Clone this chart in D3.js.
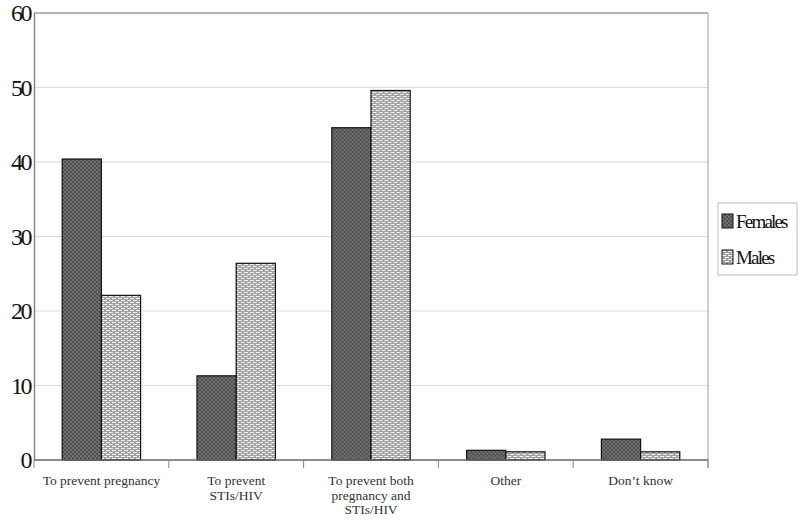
<!DOCTYPE html>
<html>
<head>
<meta charset="utf-8">
<script src="https://cdn.jsdelivr.net/npm/d3@7"></script>
<style>
  body { margin: 0; background: #fff; }
  svg { display: block; }
</style>
</head>
<body>
<div id="chart"></div>
<script>
// data
var categories = [
  ["To prevent pregnancy"],
  ["To prevent", "STIs/HIV"],
  ["To prevent both", "pregnancy and", "STIs/HIV"],
  ["Other"],
  ["Don\u2019t know"]
];
var seriesNames = ["Females", "Males"];
var females = [40.4, 11.3, 44.6, 1.3, 2.8];
var males = [22.1, 26.4, 49.6, 1.1, 1.1];
var yTicks = [0, 10, 20, 30, 40, 50, 60];

var serif = "'Liberation Serif', 'Times New Roman', serif";

var svgWidth = 800;
var svgHeight = 523;
var margin = { top: 13, right: 92, bottom: 63, left: 34 };
var width = svgWidth - margin.left - margin.right;
var height = svgHeight - margin.top - margin.bottom;

var svg = d3.select("#chart")
  .append("svg")
    .attr("width", svgWidth)
    .attr("height", svgHeight);

// fill patterns
var defs = svg.append("defs");
var pf = defs.append("pattern")
  .attr("id", "patF")
  .attr("patternUnits", "userSpaceOnUse")
  .attr("width", 4).attr("height", 4);
pf.append("rect").attr("width", 4).attr("height", 4).attr("fill", "#505050");
pf.append("rect").attr("width", 2).attr("height", 2).attr("fill", "#707070");
pf.append("rect").attr("x", 2).attr("y", 2).attr("width", 2).attr("height", 2).attr("fill", "#707070");

var pm = defs.append("pattern")
  .attr("id", "patM")
  .attr("patternUnits", "userSpaceOnUse")
  .attr("width", 6).attr("height", 4);
pm.append("rect").attr("width", 6).attr("height", 4).attr("fill", "#a0a0a0");
pm.append("rect").attr("x", 0).attr("y", 1).attr("width", 4).attr("height", 1).attr("fill", "#f4f4f4");
pm.append("rect").attr("x", 3).attr("y", 3).attr("width", 4).attr("height", 1).attr("fill", "#f4f4f4");
pm.append("rect").attr("x", -3).attr("y", 3).attr("width", 4).attr("height", 1).attr("fill", "#f4f4f4");

var patterns = ["url(#patF)", "url(#patM)"];

var chartGroup = svg.append("g")
  .attr("transform", `translate(${margin.left}, ${margin.top})`);

var xScale = d3.scaleBand()
  .domain(d3.range(categories.length))
  .range([0, width]);

var xInner = d3.scaleBand()
  .domain(seriesNames)
  .range([0, xScale.bandwidth()])
  .paddingOuter(0.72)
  .paddingInner(0);

var yScale = d3.scaleLinear()
  .domain([0, 60])
  .range([height, 0]);

// gridlines
chartGroup.append("g")
  .selectAll("line")
  .data(yTicks.filter(d => d > 0 && d < 60))
  .enter()
  .append("line")
    .attr("x1", 0)
    .attr("x2", width)
    .attr("y1", d => yScale(d))
    .attr("y2", d => yScale(d))
    .attr("stroke", "#d9d9d9")
    .attr("stroke-width", 1);

// frame top and right
chartGroup.append("line")
  .attr("x1", 0).attr("x2", width)
  .attr("y1", 0).attr("y2", 0)
  .attr("stroke", "#999").attr("stroke-width", 1.5);
chartGroup.append("line")
  .attr("x1", width).attr("x2", width)
  .attr("y1", 0).attr("y2", height + 8)
  .attr("stroke", "#bbb").attr("stroke-width", 1.5);

// bars
var rows = categories.map(function(c, i) {
  return [
    { s: "Females", v: females[i], f: patterns[0] },
    { s: "Males", v: males[i], f: patterns[1] }
  ];
});

chartGroup.selectAll(".grp")
  .data(rows)
  .enter()
  .append("g")
    .attr("class", "grp")
    .attr("transform", (d, i) => `translate(${xScale(i)},0)`)
  .selectAll("rect")
  .data(d => d)
  .enter()
  .append("rect")
    .attr("x", d => xInner(d.s))
    .attr("width", xInner.bandwidth())
    .attr("y", d => yScale(d.v))
    .attr("height", d => height - yScale(d.v))
    .attr("fill", d => d.f)
    .attr("stroke", "#111")
    .attr("stroke-width", 1.2);

// y axis
var yAxis = chartGroup.append("g")
  .call(d3.axisLeft(yScale).tickValues(yTicks).tickSize(0).tickPadding(4));
yAxis.select(".domain").attr("stroke", "#888").attr("stroke-width", 1.5);
yAxis.selectAll("text")
  .style("font-family", serif)
  .style("font-size", "24px")
  .style("letter-spacing", "-2.5px")
  .attr("fill", "#111");

// x axis line and ticks
chartGroup.append("line")
  .attr("x1", 0).attr("x2", width)
  .attr("y1", height).attr("y2", height)
  .attr("stroke", "#666").attr("stroke-width", 1.5);
chartGroup.selectAll(".xtick")
  .data(d3.range(categories.length + 1))
  .enter()
  .append("line")
    .attr("class", "xtick")
    .attr("x1", i => i * xScale.step())
    .attr("x2", i => i * xScale.step())
    .attr("y1", height)
    .attr("y2", height + 8)
    .attr("stroke", "#888");

// category labels
var labels = chartGroup.selectAll(".catlabel")
  .data(categories)
  .enter()
  .append("text")
    .attr("class", "catlabel")
    .attr("text-anchor", "middle")
    .style("font-family", serif)
    .style("font-size", "13.5px")
    .attr("fill", "#333")
    .attr("transform", (d, i) => `translate(${xScale(i) + xScale.bandwidth() / 2},${height + 25})`);
labels.selectAll("tspan")
  .data(d => d)
  .enter()
  .append("tspan")
    .attr("x", 0)
    .attr("dy", (d, i) => i === 0 ? 0 : 14.5)
    .text(d => d);

// legend
var legend = svg.append("g")
  .attr("transform", "translate(718,203)");
legend.append("rect")
  .attr("width", 79).attr("height", 72)
  .attr("fill", "#fff")
  .attr("stroke", "#bbb");
var li = legend.selectAll(".li")
  .data(seriesNames)
  .enter()
  .append("g")
    .attr("class", "li")
    .attr("transform", (d, i) => `translate(4,${19 + i * 36})`);
li.append("rect")
  .attr("y", -8)
  .attr("width", 11).attr("height", 14)
  .attr("fill", (d, i) => patterns[i])
  .attr("stroke", "#111");
li.append("text")
  .attr("x", 14)
  .attr("y", 6)
  .style("font-family", serif)
  .style("font-size", "19px")
  .style("letter-spacing", "-1.8px")
  .attr("fill", "#111")
  .text(d => d);
</script>
</body>
</html>
